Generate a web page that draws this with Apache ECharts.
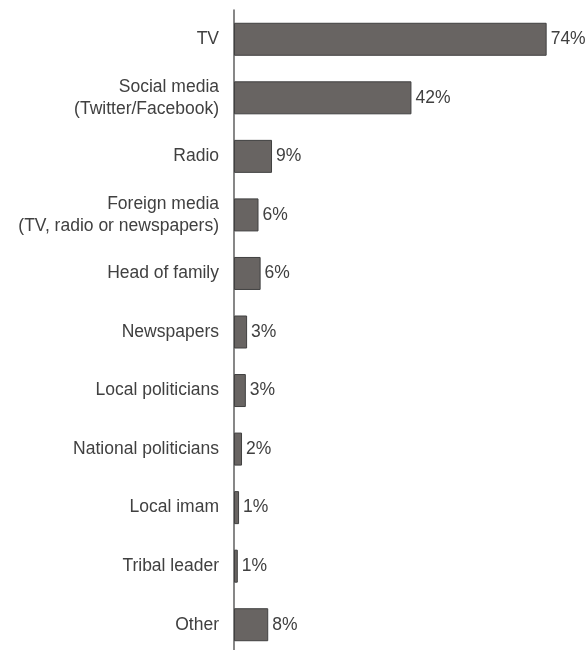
<!DOCTYPE html>
<html>
<head>
<meta charset="utf-8">
<script src="https://cdn.jsdelivr.net/npm/echarts@6/dist/echarts.min.js"></script>
<style>
html,body{margin:0;padding:0;background:#fff;overflow:hidden;}
#chart{width:588px;height:660px;}
</style>
</head>
<body>
<div id="chart"></div>
<script>
const categories = [
  "TV",
  "Social media\n(Twitter/Facebook)",
  "Radio",
  "Foreign media\n(TV, radio or newspapers)",
  "Head of family",
  "Newspapers",
  "Local politicians",
  "National politicians",
  "Local imam",
  "Tribal leader",
  "Other"
];
const values = [74, 42, 9.0, 5.8, 6.3, 3.1, 2.8, 1.9, 1.2, 0.9, 8.1];

const chart = echarts.init(document.getElementById('chart'));
chart.setOption({
  animation: false,
  textStyle: { fontFamily: 'Liberation Sans, Arial, sans-serif' },
  grid: { left: 234, top: 10, width: 338, height: 644, containLabel: false },
  xAxis: {
    type: 'value', min: 0, max: 80, show: false
  },
  yAxis: {
    type: 'category',
    data: categories,
    inverse: true,
    axisLine: { show: true, lineStyle: { color: '#5f5f5f', width: 1.5 } },
    axisTick: { show: false },
    axisLabel: {
      color: '#404040', fontSize: 17.5, lineHeight: 22, margin: 15,
      fontFamily: 'Liberation Sans, Arial, sans-serif', align: 'right'
    }
  },
  series: [{
    type: 'bar',
    data: values,
    barWidth: 33,
    itemStyle: { color: '#686462', borderColor: '#404040', borderWidth: 1 },
    label: {
      show: true, position: 'right', distance: 4,
      color: '#404040', fontSize: 17.5,
      fontFamily: 'Liberation Sans, Arial, sans-serif',
      formatter: p => Math.round(p.value) + '%'
    }
  }]
});
</script>
</body>
</html>
